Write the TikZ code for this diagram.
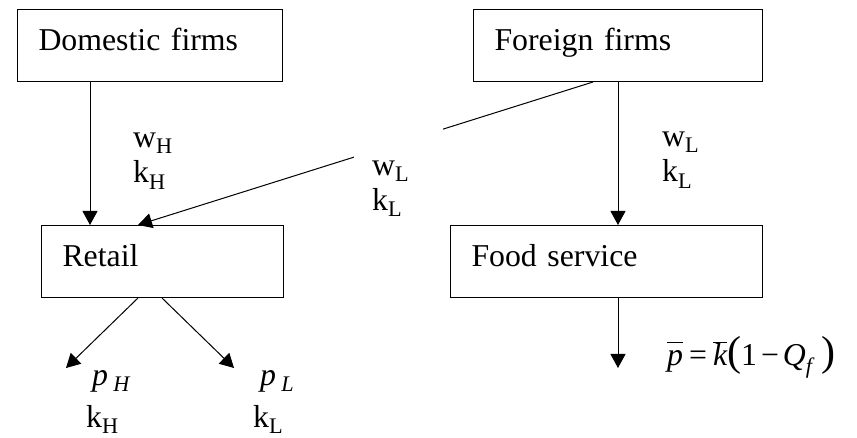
\documentclass[tikz,border=0pt]{standalone}
\usepackage{fontspec}
\setmainfont{Liberation Serif}
\usetikzlibrary{arrows.meta}
\newcommand{\barred}[1]{$\overline{\vphantom{\mbox{\itshape k}}\mbox{\itshape #1}}$}
\begin{document}
\begin{tikzpicture}[x=1pt,y=-1pt,
  every node/.style={font=\fontsize{31.8}{35.5}\selectfont},
  firm/.style={draw,line width=1pt,anchor=north west,align=left,inner xsep=21pt,inner ysep=0pt,text height=41pt,text depth=31pt},
  lab/.style={anchor=base west,align=left,inner sep=0pt},
  arr/.style={line width=1pt,-{Triangle[length=14pt,width=15pt]}}]
\useasboundingbox (0,0) rectangle (857,438);
\node[firm,text width=223pt] (dom) at (17,9) {Domestic firms};
\node[firm,text width=247pt] (for) at (473,9) {Foreign firms};
\node[firm,text width=200pt] (ret) at (41,225) {Retail};
\node[firm,text width=270pt] (food) at (450,225) {Food service};
\coordinate (phend) at (66,368);
\coordinate (plend) at (234,368);
\coordinate (fend) at (618,368);
\draw[arr] ([xshift=73pt]dom.south west) -- ([xshift=49pt]ret.north west);
\draw[arr] ([xshift=145pt]for.south west) -- ([xshift=168pt]food.north west);
\draw[arr] ([xshift=120pt]for.south west) -- ([xshift=97pt]ret.north west);
\draw[arr] ([xshift=97pt]ret.south west) -- (phend);
\draw[arr] ([xshift=121pt]ret.south west) -- (plend);
\draw[arr] ([xshift=168pt]food.south west) -- (fend);
\node[fill=white,anchor=north west,align=left,inner xsep=18pt,inner ysep=0pt,text width=53pt,text height=47pt,text depth=43pt] (wlm) at (354,128) {w\textsubscript{L}\\k\textsubscript{L}};
\node[lab] (wh) at (133,183) {w\textsubscript{H}\\k\textsubscript{H}};
\node[lab] (wlr) at (662,182) {w\textsubscript{L}\\k\textsubscript{L}};
\node[lab] (ph) at (86,427) {\hspace*{6pt}\textit{p}\,\textsubscript{\textit{H}}\\[6pt]k\textsubscript{H}};
\node[lab] (pl) at (253,427) {\hspace*{7pt}\textit{p}\,\textsubscript{\textit{L}}\\[6pt]k\textsubscript{L}};
\node[lab] (price) at (667,366) {\barred{p}\hspace{6pt}=\hspace{6pt}\barred{k}{\fontsize{42}{42}\selectfont(}1\hspace{4pt}−\hspace{4pt}\textit{Q}\textsubscript{\textit{f}}\hspace{6pt}{\fontsize{42}{42}\selectfont)}};
\end{tikzpicture}
\end{document}
